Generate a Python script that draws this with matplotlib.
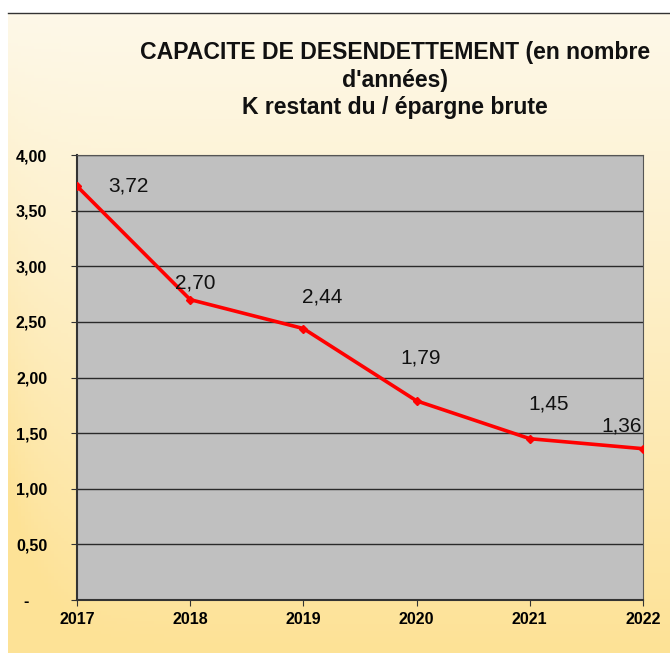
import numpy as np
import matplotlib
matplotlib.use("Agg")
import matplotlib.pyplot as plt

years = ["2017", "2018", "2019", "2020", "2021", "2022"]
values = [3.72, 2.70, 2.44, 1.79, 1.45, 1.36]
labels = ["3,72", "2,70", "2,44", "1,79", "1,45", "1,36"]
yticks = [0, 0.5, 1.0, 1.5, 2.0, 2.5, 3.0, 3.5, 4.0]
ytick_labels = ["-    ", "0,50", "1,00", "1,50", "2,00", "2,50", "3,00", "3,50", "4,00"]
label_offsets = [(51, 0), (5, 17), (19, 32), (4, 43), (19, 35), (-21, 23)]

W, H = 670, 653
fig = plt.figure(figsize=(W / 100, H / 100), dpi=100)
fig.patch.set_facecolor("white")

bg = fig.add_axes([8 / W, 0, 1 - 8 / W, 1 - 14 / H])
bg.set_axis_off()
ny, nx = 200, 200
yy = np.linspace(0, 1, ny)[:, None]
xx = np.linspace(0, 1, nx)[None, :]
top = np.array([254, 248, 232]) / 255
bot = np.array([253, 226, 150]) / 255
t = np.clip(yy ** 1.1 + 0.35 * np.exp(-xx / 0.05) * yy, 0, 1)
img = top[None, None, :] * (1 - t[..., None]) + bot[None, None, :] * t[..., None]
bg.imshow(img, aspect="auto", extent=[0, 1, 0, 1])
fig.add_artist(plt.Line2D([8 / W, 1], [1 - 13 / H, 1 - 13 / H], color="#333333", lw=1.0))

ax = fig.add_axes([77 / W, (H - 600) / H, (643 - 77) / W, (600 - 155) / H])
ax.set_facecolor("#c0c0c0")
x = np.arange(len(years))
ax.set_xlim(0, len(years) - 1)
ax.set_ylim(0, 4.0)
for yv in yticks:
    ax.axhline(yv, color="#2a2a2a", lw=1.0, zorder=1)
ax.plot(x, values, color="#ff0000", lw=2.6, marker="D", ms=4.5, zorder=3)
for xi, v, lab, off in zip(x, values, labels, label_offsets):
    ax.annotate(lab, (xi, v), xytext=off, textcoords="offset pixels",
                ha="center", va="center", fontsize=15, color="#111111",
                family="Liberation Sans")
ax.set_yticks(yticks)
ax.set_yticklabels(ytick_labels, fontsize=11.5, fontweight="bold", family="Liberation Sans")
ax.set_xticks(x)
ax.set_xticklabels(years, fontsize=11.5, fontweight="bold", family="Liberation Sans")
ax.tick_params(axis="y", length=4, pad=17.5, color="#333333")
ax.tick_params(axis="x", length=4, pad=5, color="#333333")
for s in ["left", "bottom"]:
    ax.spines[s].set_color("#333333")
    ax.spines[s].set_linewidth(1.5)
for s in ["top", "right"]:
    ax.spines[s].set_color("#555555")
    ax.spines[s].set_linewidth(0.8)

title = "CAPACITE DE DESENDETTEMENT (en nombre\nd'années)\nK restant du / épargne brute"
fig.text(395 / W, 1 - 80 / H, title, ha="center", va="center", fontsize=16.6,
         fontweight="bold", family="Liberation Sans", linespacing=1.27, color="#111111")

fig.savefig("out.png", dpi=100)
